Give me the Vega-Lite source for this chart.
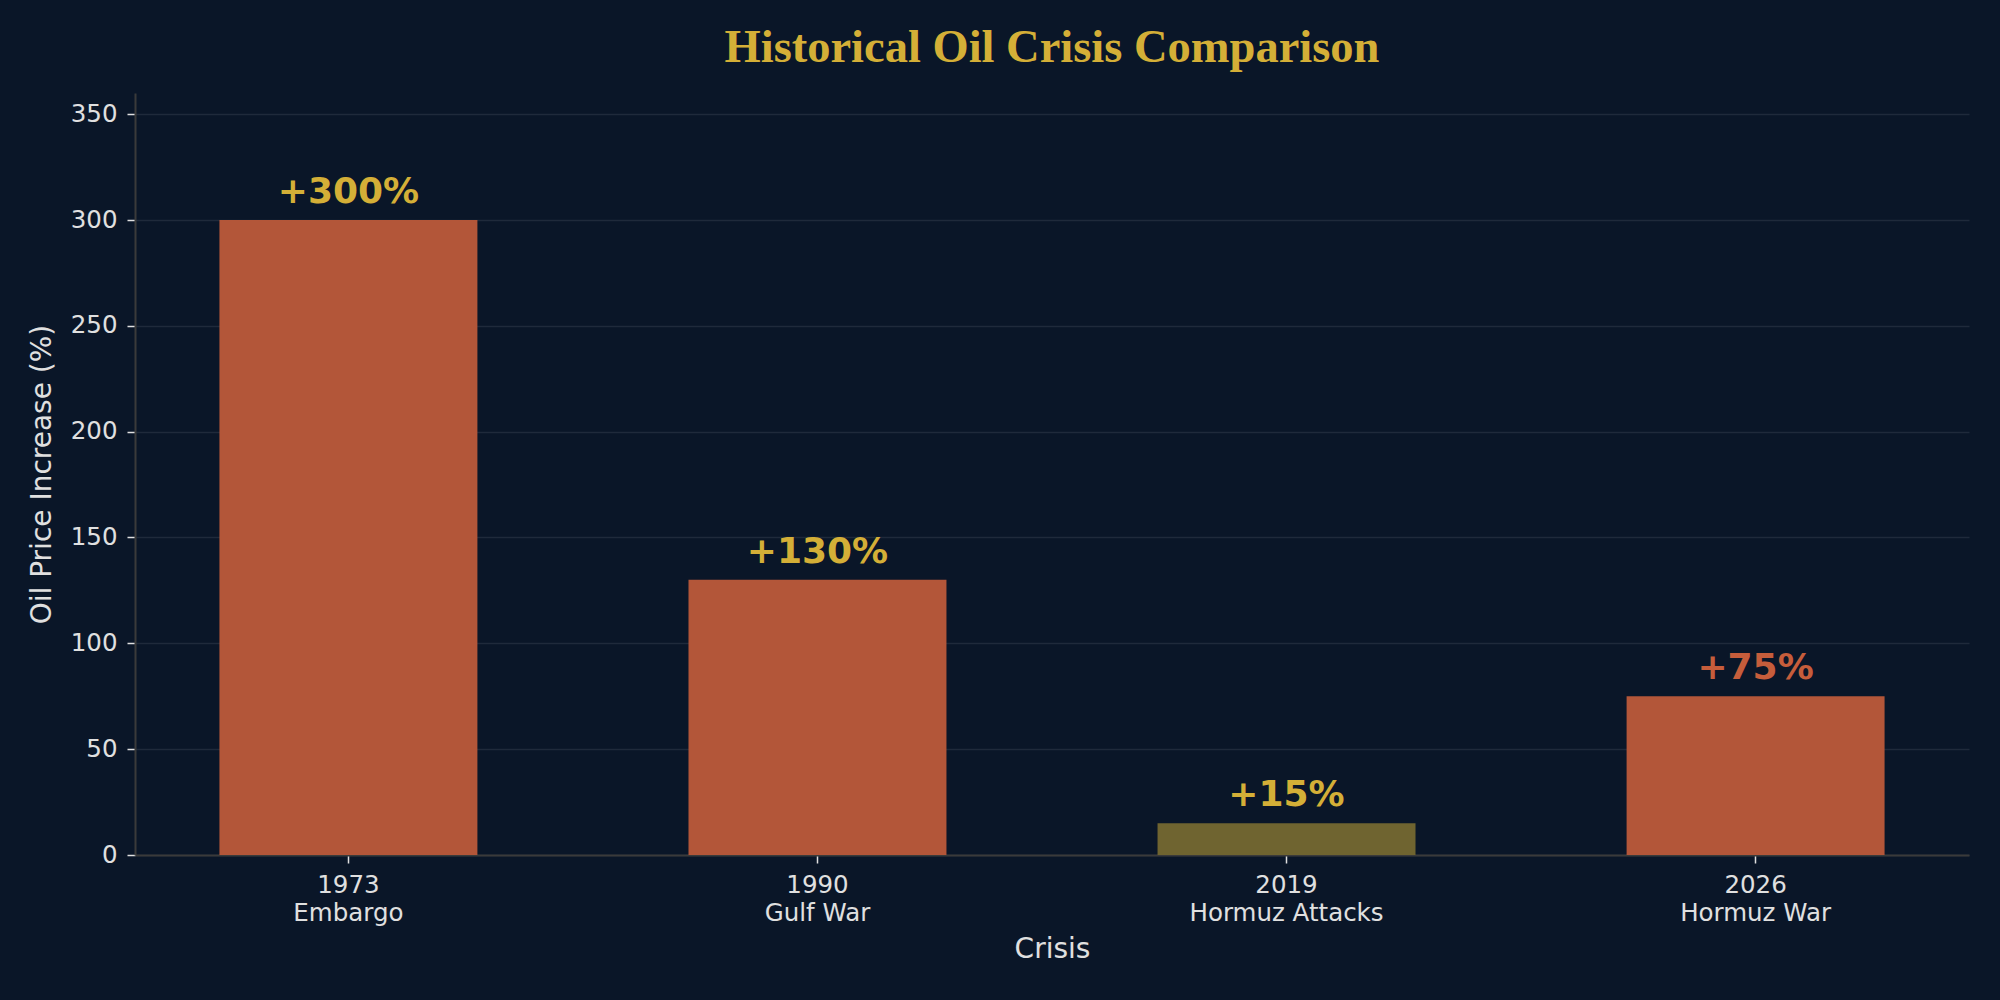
{
  "$schema": "https://vega.github.io/schema/vega-lite/v6.json",
  "autosize": "none",
  "width": 1834,
  "height": 762,
  "padding": {"left": 135, "top": 93, "right": 31, "bottom": 145},
  "background": "#0a1628",
  "title": {
    "text": "Historical Oil Crisis Comparison",
    "font": "Liberation Serif",
    "fontSize": 46.5,
    "fontWeight": "bold",
    "color": "#d4af37",
    "anchor": "middle",
    "baseline": "alphabetic",
    "offset": -15
  },
  "data": {
    "values": [
      {"crisis": "1973|Embargo", "increase": 300, "label": "+300%", "type": "Major"},
      {"crisis": "1990|Gulf War", "increase": 130, "label": "+130%", "type": "Major"},
      {"crisis": "2019|Hormuz Attacks", "increase": 15, "label": "+15%", "type": "Minor"},
      {"crisis": "2026|Hormuz War", "increase": 75, "label": "+75%", "type": "Current"}
    ]
  },
  "config": {
    "view": {"stroke": null},
    "axis": {
      "labelFont": "DejaVu Sans",
      "titleFont": "DejaVu Sans",
      "labelColor": "#e0e0e0",
      "titleColor": "#e0e0e0",
      "labelFontSize": 24.5,
      "titleFontSize": 28,
      "titleFontWeight": "normal",
      "tickColor": "#e0e0e0",
      "tickSize": 8,
      "domainColor": "#3a3a3a",
      "domainWidth": 2,
      "gridColor": "#1f2a3b",
      "gridWidth": 1.5,
      "labelLimit": 0
    }
  },
  "encoding": {
    "x": {
      "field": "crisis",
      "type": "nominal",
      "sort": null,
      "scale": {"paddingInner": 0.45, "paddingOuter": 0.18},
      "axis": {
        "title": "Crisis",
        "labelAngle": 0,
        "labelExpr": "split(datum.label, '|')",
        "labelLineHeight": 28,
        "labelPadding": 10,
        "labelBaseline": "top",
        "titlePadding": 11,
        "grid": false,
        "tickWidth": 1.5
      }
    },
    "y": {
      "field": "increase",
      "type": "quantitative",
      "scale": {"domain": [0, 360], "nice": false},
      "axis": {
        "title": "Oil Price Increase (%)",
        "values": [0, 50, 100, 150, 200, 250, 300, 350],
        "labelPadding": 10,
        "titlePadding": 14,
        "grid": true,
        "tickWidth": 1.5
      }
    }
  },
  "layer": [
    {
      "mark": {"type": "bar"},
      "encoding": {
        "color": {
          "field": "type",
          "type": "nominal",
          "scale": {"domain": ["Major", "Minor", "Current"], "range": ["#b35639", "#6f6430", "#b35639"]},
          "legend": null
        }
      }
    },
    {
      "mark": {
        "type": "text",
        "font": "DejaVu Sans",
        "fontSize": 36,
        "fontWeight": "bold",
        "baseline": "alphabetic",
        "dy": -17
      },
      "encoding": {
        "text": {"field": "label"},
        "color": {
          "field": "type",
          "type": "nominal",
          "scale": {"domain": ["Major", "Minor", "Current"], "range": ["#d4af37", "#d4af37", "#c65d3b"]},
          "legend": null
        }
      }
    }
  ],
  "resolve": {"scale": {"color": "independent"}}
}
